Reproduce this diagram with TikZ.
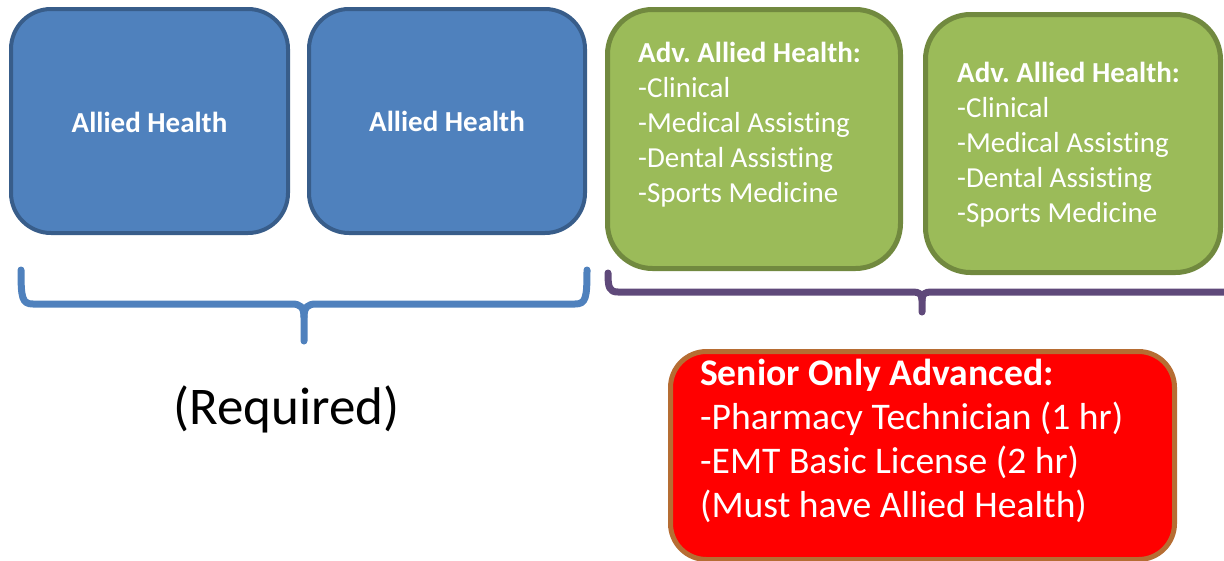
\documentclass[tikz,border=0pt]{standalone}
\usepackage{fontspec}
\setmainfont{Carlito}[RawFeature={-liga;-clig;-calt}]
\frenchspacing
\definecolor{bluefill}{HTML}{4F81BD}
\definecolor{blueline}{HTML}{385D8A}
\definecolor{greenfill}{HTML}{9BBB59}
\definecolor{greenline}{HTML}{71893F}
\definecolor{redfill}{HTML}{FF0000}
\definecolor{redline}{HTML}{B66D33}
\definecolor{purplebrace}{HTML}{5F497A}
\tikzset{
  bluebox/.style={rectangle, rounded corners=40pt, fill=bluefill, draw=blueline, line width=4pt, inner sep=0pt},
  greenbox/.style={rectangle, rounded corners=45pt, fill=greenfill, draw=greenline, line width=5pt, inner sep=0pt},
  redbox/.style={rectangle, rounded corners=36pt, fill=redfill, draw=redline, line width=5pt, inner sep=0pt},
  boxtext/.style={inner sep=0pt, text=white},
  bracestyle/.style={line width=7pt, line cap=round, line join=round},
}
\begin{document}
\begin{tikzpicture}[x=1pt,y=-1pt]
\useasboundingbox (0,0) rectangle (1224,560);
\clip (0,0) rectangle (1224,560);
% boxes
\node[bluebox, minimum width=277pt, minimum height=224pt] (ah1) at (149.5,121) {};
\node[bluebox, minimum width=276pt, minimum height=224pt] (ah2) at (447,121) {};
\node[greenbox, minimum width=293pt, minimum height=259pt] (adv1) at (754,139) {};
\node[greenbox, minimum width=295pt, minimum height=258pt] (adv2) at (1073,143.5) {};
\node[redbox, minimum width=504pt, minimum height=208pt] (senior) at (922.5,455.5) {};
% texts
\node[boxtext, anchor=base, font=\fontsize{29}{35}\selectfont\bfseries] (ah1t) at (149.5,132) {Allied Health};
\node[boxtext, anchor=base, font=\fontsize{29}{35}\selectfont\bfseries] (ah2t) at (447,131) {Allied Health};
\node[boxtext, anchor=base west] (adv1t) at (638,62) {\fontsize{29}{35}\selectfont\begin{tabular}[t]{@{}l@{}}\textbf{Adv. Allied Health:}\\-Clinical\\-Medical Assisting\\-Dental Assisting\\-Sports Medicine\end{tabular}};
\node[boxtext, anchor=base west] (adv2t) at (957,82) {\fontsize{29}{35}\selectfont\begin{tabular}[t]{@{}l@{}}\textbf{Adv. Allied Health:}\\-Clinical\\-Medical Assisting\\-Dental Assisting\\-Sports Medicine\end{tabular}};
\node[boxtext, anchor=base west] (seniort) at (700,385) {\fontsize{37.6}{44}\selectfont\begin{tabular}[t]{@{}l@{}}\textbf{Senior Only Advanced:}\\-Pharmacy Technician (1 hr)\\-EMT Basic License (2 hr)\\(Must have Allied Health)\end{tabular}};
\node[inner sep=0pt, anchor=base, font=\fontsize{53}{60}\selectfont] (req) at (286.5,424) {(Required)};
% blue brace
\coordinate (bl) at (21,270);
\coordinate (br) at (587,270);
\coordinate (bt) at (304,341);
\draw[bracestyle, bluefill] (bl) .. controls (21,298) and (22,304) .. (33,304) -- (292,304) .. controls (300,304) and (304,307) .. (304,317) -- (bt);
\draw[bracestyle, bluefill] (br) .. controls (587,298) and (586,304) .. (575,304) -- (316,304) .. controls (308,304) and (304,307) .. (304,317);
% purple brace
\coordinate (pl) at (608,273);
\coordinate (pr) at (1236,273);
\coordinate (pt) at (922,312);
\draw[bracestyle, purplebrace] (pl) .. controls (608,287) and (609,292) .. (618,292) -- (913,292) .. controls (919,292) and (922,294) .. (922,300) -- (pt);
\draw[bracestyle, purplebrace] (pr) .. controls (1236,287) and (1235,292) .. (1226,292) -- (931,292) .. controls (925,292) and (922,294) .. (922,300);
\end{tikzpicture}
\end{document}
